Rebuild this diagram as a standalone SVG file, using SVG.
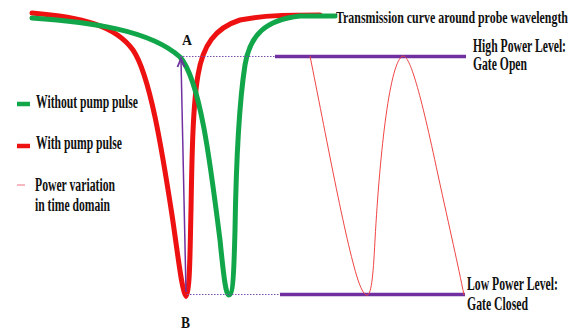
<svg xmlns="http://www.w3.org/2000/svg" width="571" height="329" viewBox="0 0 571 329">
<style>
.t{font-family:"Liberation Serif","Times New Roman",serif;font-weight:bold;fill:#111;}
.red{fill:none;stroke:#ee1111;stroke-width:5;stroke-linecap:round;}
.green{fill:none;stroke:#12a64a;stroke-width:5;stroke-linecap:round;}
.lvl{stroke:#7030a0;stroke-width:3.5;}
.dot{stroke:#7a50b0;stroke-width:1;stroke-dasharray:1.5 1.5;}
</style>
<rect width="571" height="329" fill="#fff"/>
<g id="curves">
<path id="red-curve" class="red" d="M32,13 C80,17 115,25 133,50 C150,75 162,150 172,215 C178,255 182,293 186,296 C190,293 190,250 191,210 C192,150 193,105 198,75 C203,45 215,28 240,20 C265,15 290,15 320,15"/>
<path id="green-curve" class="green" d="M32,18 C90,22 150,30 180,57 C200,80 210,160 220,240 C224,280 226,295 229,295 C233,295 234,270 235,230 C236,170 238,110 245,65 C250,35 265,20 300,16 L335,16"/>
</g>
<g id="levels">
<line class="dot" x1="180" y1="56.5" x2="275" y2="56.5"/>
<line class="lvl" x1="275" y1="56.5" x2="466" y2="56.5"/>
<line class="dot" x1="187" y1="294.5" x2="280" y2="294.5"/>
<line class="lvl" x1="280" y1="294.5" x2="465" y2="294.5"/>
</g>
<g id="power-variation">
<path d="M310,56 C325,130 345,240 358,280 C362,292 365,295 367,295 C371,295 373,280 375,240 C380,150 390,60 403,56 C410,56 420,90 438,175 C450,230 458,265 464,295" fill="none" stroke="#f04545" stroke-width="1"/>
</g>
<g id="connectors">
<line x1="186" y1="292" x2="181" y2="60" stroke="#7030a0" stroke-width="1.5"/>
<path d="M177.5,67 L181,58.5 L184.5,67" fill="none" stroke="#7030a0" stroke-width="1.8" stroke-linejoin="miter"/>
</g>
<g id="label-A"><text class="t" x="182" y="45" font-size="15" textLength="10" lengthAdjust="spacingAndGlyphs">A</text></g>
<g id="label-B"><text class="t" x="181" y="328" font-size="16" textLength="9" lengthAdjust="spacingAndGlyphs">B</text></g>
<g id="title"><text class="t" x="336" y="23" font-size="17" textLength="232" lengthAdjust="spacingAndGlyphs">Transmission curve  around probe wavelength</text></g>
<g id="high-level">
<text class="t" x="473" y="52" font-size="18" textLength="93" lengthAdjust="spacingAndGlyphs">High Power Level:</text>
<text class="t" x="473" y="70" font-size="18" textLength="54" lengthAdjust="spacingAndGlyphs">Gate Open</text>
</g>
<g id="low-level">
<text class="t" x="467" y="290" font-size="18" textLength="91" lengthAdjust="spacingAndGlyphs">Low Power Level:</text>
<text class="t" x="467" y="310" font-size="18" textLength="61" lengthAdjust="spacingAndGlyphs">Gate Closed</text>
</g>
<g id="legend">
<line x1="17" y1="104" x2="30" y2="104" stroke="#12a64a" stroke-width="4.5"/>
<text class="t" x="36" y="108" font-size="18" textLength="102" lengthAdjust="spacingAndGlyphs">Without pump pulse</text>
<line x1="17" y1="146" x2="30" y2="146" stroke="#ee1111" stroke-width="4.5"/>
<text class="t" x="36" y="149" font-size="18" textLength="86" lengthAdjust="spacingAndGlyphs">With pump pulse</text>
<line x1="17" y1="185" x2="25" y2="185" stroke="#f07080" stroke-width="1"/>
<text class="t" x="35" y="191" font-size="18" textLength="80" lengthAdjust="spacingAndGlyphs">Power variation</text>
<text class="t" x="35" y="211" font-size="18" textLength="75" lengthAdjust="spacingAndGlyphs">in time domain</text>
</g>
</svg>
